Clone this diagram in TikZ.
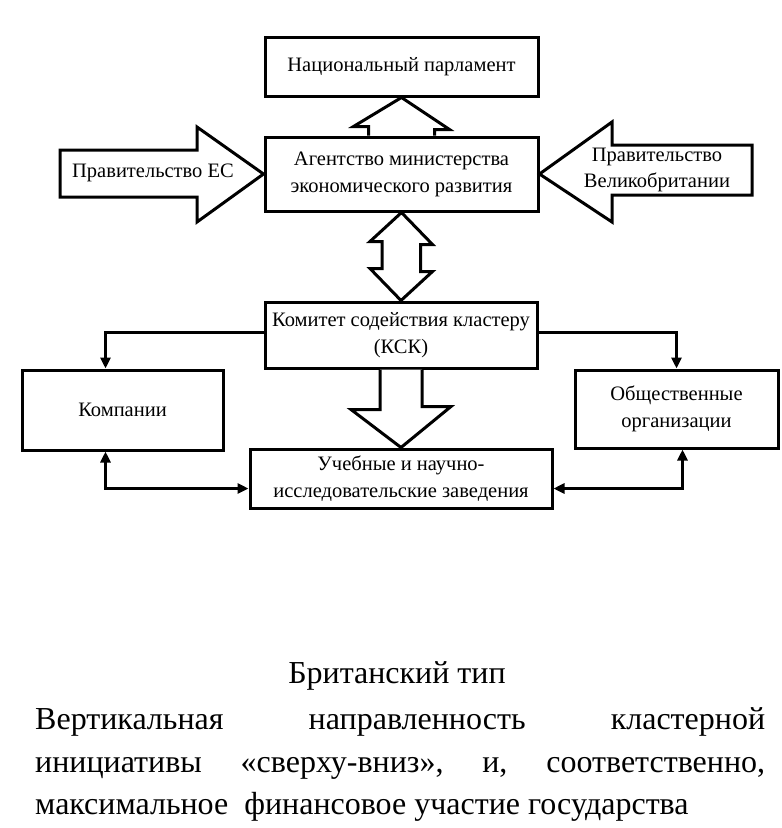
\documentclass[tikz,border=0pt]{standalone}
\usepackage{fontspec}
\setmainfont{Liberation Serif}
\usetikzlibrary{arrows.meta}

\tikzset{
  box/.style={draw, line width=3pt, align=center, font=\fontsize{20.5}{27}\selectfont},
  block/.style={draw, line width=3pt, line join=miter, fill=white},
  link/.style={line width=3pt},
  para/.style={font=\fontsize{32}{38}\selectfont, inner sep=0, anchor=base west},
  tip/.tip={Triangle[length=11pt,width=10pt]}
}

\begin{document}
\begin{tikzpicture}[x=1pt,y=-1pt]
  \useasboundingbox (0,0) rectangle (782,828);

  % Boxes
  \node[box, minimum width=273, minimum height=59] (parl) at (401.5,66.5) {Национальный парламент};
  \node[box, minimum width=273, minimum height=74] (agency) at (401.5,174) {Агентство министерства\\экономического развития};
  \node[box, minimum width=272, minimum height=66] (ksk) at (401,335) {Комитет содействия кластеру\\(КСК)};
  \node[box, minimum width=201, minimum height=80] (comp) at (122.5,410) {Компании};
  \node[box, minimum width=302, minimum height=59] (edu) at (401,478.5) {Учебные и научно-\\исследовательские заведения};
  \node[box, minimum width=203, minimum height=78] (soc) at (676.5,409) {Общественные\\организации};

  % Big arrows from the sides
  \draw[block] (60,150) -- (197,150) -- (197,127) -- (agency.west) -- (197,222) -- (197,197) -- (60,197) -- cycle;
  \node[font=\fontsize{20.5}{27}\selectfont] (eu) at (153,173) {Правительство ЕС};
  \draw[block] (agency.east) -- (612,122) -- (612,145) -- (752,145) -- (752,195) -- (612,195) -- (612,222) -- cycle;
  \node[font=\fontsize{20.5}{26}\selectfont, align=center] (uk) at (657,170) {Правительство\\Великобритании};

  % Block arrows between the boxes
  \draw[block] ([xshift=-33pt]agency.north) -- ++(0,-9) -- ++(-15,0) -- (parl.south) -- ++(48,32) -- ++(-15,0) -- ([xshift=33pt]agency.north);
  \draw[block] (agency.south) -- ++(31,32) -- ++(-12,0) -- ++(0,27) -- ++(12,0) -- (ksk.north) -- ++(-31,-32) -- ++(12,0) -- ++(0,-27) -- ++(-12,0) -- cycle;
  \draw[block] ([xshift=-21pt]ksk.south) -- ++(0,40) -- ++(-29,0) -- (edu.north) -- ++(50,-41) -- ++(-29,0) -- ([xshift=21pt]ksk.south);

  % Links
  \draw[link,-tip] ([yshift=3pt]ksk.west) -| ([xshift=-17pt]comp.north);
  \draw[link,-tip] ([yshift=3pt]ksk.east) -| (soc.north);
  \draw[link,tip-tip] ([xshift=-17pt]comp.south) |- ([yshift=-10pt]edu.west);
  \draw[link,tip-tip] ([yshift=-10pt]edu.east) -| ([xshift=6pt]soc.south);

  % Caption
  \node[font=\fontsize{32}{38}\selectfont] (title) at (397,676) {Британский тип};
  \node[para] (line1) at (35,729)
    {\hbox to 730pt{Вертикальная\hfill направленность\hfill кластерной}};
  \node[para] (line2) at (35,772)
    {\hbox to 730pt{инициативы\hfill «сверху-вниз»,\hfill и,\hfill соответственно,}};
  \node[para] (line3) at (35,814)
    {максимальное\ \ финансовое участие государства};
\end{tikzpicture}
\end{document}
